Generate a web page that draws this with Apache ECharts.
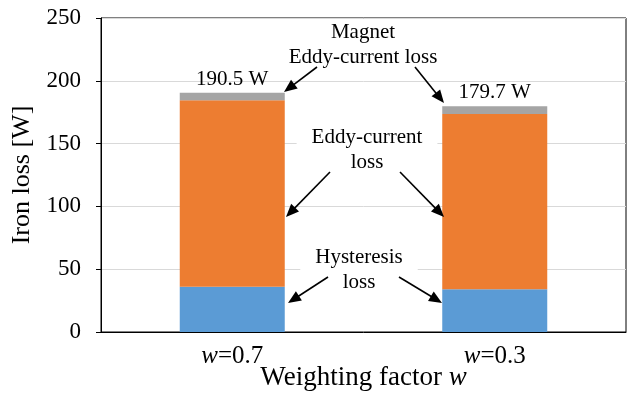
<!DOCTYPE html>
<html>
<head>
<meta charset="utf-8">
<script src="https://cdn.jsdelivr.net/npm/echarts@6/dist/echarts.min.js"></script>
<style>
html,body{margin:0;padding:0;background:#fff;}
#chart{width:630px;height:394px;}
</style>
</head>
<body>
<div id="chart"></div>
<script>
var categories = ['w=0.7', 'w=0.3'];
var hysteresis = [36.0, 34.0];
var eddyCurrent = [148.5, 139.5];
var magnetEddy = [6.0, 6.2];
var totals = [190.5, 179.7];
var yMin = 0, yMax = 250, yInterval = 50;

var FONT = '"Liberation Serif", "Times New Roman", serif';

function arrow(x1, y1, x2, y2) {
  var dx = x2 - x1, dy = y2 - y1;
  var len = Math.sqrt(dx * dx + dy * dy);
  var ux = dx / len, uy = dy / len;
  var hl = 13, hw = 5.5;
  var bx = x2 - ux * hl, by = y2 - uy * hl;
  var px = -uy, py = ux;
  return [
    {type: 'line', z: 100, shape: {x1: x1, y1: y1, x2: bx + ux * 2, y2: by + uy * 2},
     style: {stroke: '#000', lineWidth: 1.6}},
    {type: 'polygon', z: 100, shape: {points: [[x2, y2], [bx + px * hw, by + py * hw], [bx - px * hw, by - py * hw]]},
     style: {fill: '#000'}}
  ];
}

function note(text, x, y) {
  return {type: 'text', z: 99, style: {
    text: text, x: x, y: y, align: 'center', verticalAlign: 'middle',
    fontFamily: FONT, fontSize: 21, lineHeight: 25, fill: '#000',
    backgroundColor: '#fff', padding: [0, 15]
  }};
}

var graphics = [].concat(
  [note('Magnet\nEddy-current loss', 363, 44.5),
   note('Eddy-current\nloss', 367, 149.5),
   note('Hysteresis\nloss', 359, 270)],
  arrow(317, 67, 284, 92),
  arrow(415, 67, 444, 103),
  arrow(330, 172, 286, 217),
  arrow(400, 172, 444, 217),
  arrow(328, 277, 288, 303),
  arrow(399, 277, 442, 303)
);

var chart = echarts.init(document.getElementById('chart'), null, {renderer: 'canvas'});
chart.setOption({
  animation: false,
  backgroundColor: '#fff',
  textStyle: {fontFamily: FONT},
  grid: {left: 101, right: 4, top: 18, bottom: 62, show: true, borderColor: '#000', borderWidth: 1,
         backgroundColor: 'transparent', containLabel: false, outerBoundsMode: 'none'},
  xAxis: {
    type: 'category',
    data: categories,
    axisLine: {show: true, lineStyle: {color: '#000', width: 1}},
    axisTick: {show: false},
    axisLabel: {
      margin: 12,
      formatter: function (v) { return '{i|' + v.charAt(0) + '}{n|' + v.slice(1) + '}'; },
      rich: {
        i: {fontFamily: FONT, fontSize: 25, fontStyle: 'italic', color: '#000'},
        n: {fontFamily: FONT, fontSize: 25, color: '#000'}
      }
    },
    name: '{n|Weighting factor }{i|w}',
    nameLocation: 'middle',
    nameGap: 32,
    nameMoveOverlap: false,
    nameTextStyle: {
      rich: {
        i: {fontFamily: FONT, fontSize: 27, fontStyle: 'italic', color: '#000'},
        n: {fontFamily: FONT, fontSize: 27, color: '#000'}
      }
    }
  },
  yAxis: {
    type: 'value',
    min: yMin, max: yMax, interval: yInterval,
    axisLine: {show: true, lineStyle: {color: '#000', width: 1}},
    axisTick: {show: true, inside: false, length: 5, lineStyle: {color: '#000'}},
    axisLabel: {margin: 20, fontFamily: FONT, fontSize: 23, color: '#000'},
    splitLine: {show: true, lineStyle: {color: '#d9d9d9', width: 1}},
    name: 'Iron loss [W]',
    nameLocation: 'middle',
    nameGap: 66,
    nameMoveOverlap: false,
    nameTextStyle: {fontFamily: FONT, fontSize: 26, color: '#000'}
  },
  series: [
    {name: 'Hysteresis loss', type: 'bar', stack: 'loss', barWidth: '40%', data: hysteresis,
     itemStyle: {color: '#5B9BD5'}},
    {name: 'Eddy-current loss', type: 'bar', stack: 'loss', barWidth: '40%', data: eddyCurrent,
     itemStyle: {color: '#ED7D31'}},
    {name: 'Magnet eddy-current loss', type: 'bar', stack: 'loss', barWidth: '40%', data: magnetEddy,
     itemStyle: {color: '#A5A5A5'},
     label: {show: true, position: 'top', distance: 3, color: '#000', fontFamily: FONT, fontSize: 21,
       formatter: function (p) { return totals[p.dataIndex].toFixed(1) + ' W'; }}}
  ],
  graphic: graphics
});
</script>
</body>
</html>
